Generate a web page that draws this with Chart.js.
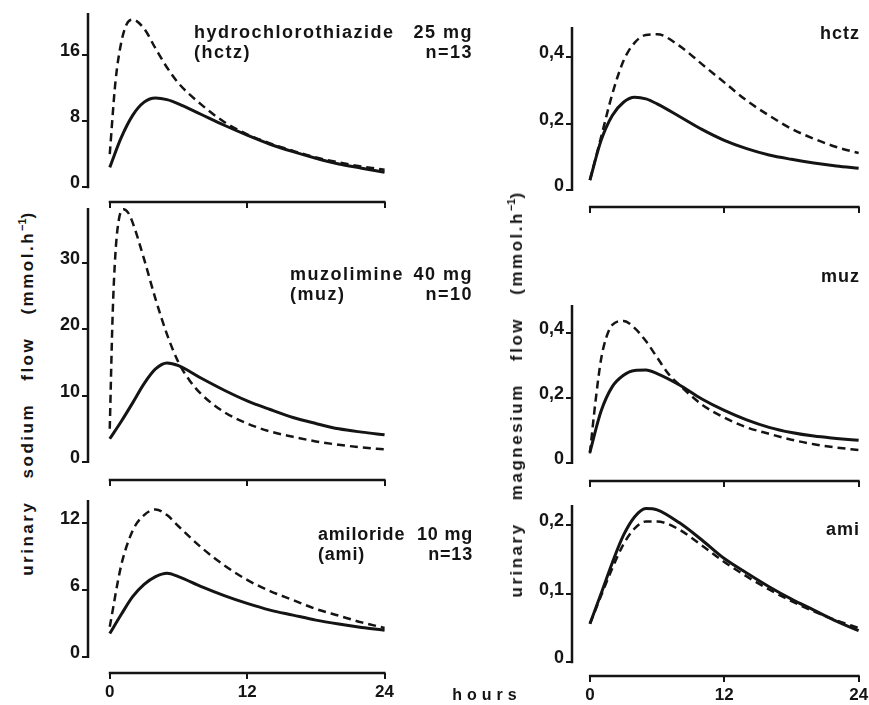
<!DOCTYPE html>
<html>
<head>
<meta charset="utf-8">
<script src="https://cdn.jsdelivr.net/npm/chart.js@4"></script>
<style>
  body { margin: 0; background: #fff; }
  #fig { position: relative; width: 869px; height: 705px; overflow: hidden;
         font-family: "Liberation Sans", Arial, sans-serif; font-weight: bold; color: #141414; }
  canvas { position: absolute; }
  .note { position: absolute; font-size: 18px; letter-spacing: 1.5px; line-height: 20px; z-index: 2; }
  .note div { display: flex; justify-content: space-between; white-space: pre; }
  .tag { position: absolute; right: 9px; font-size: 18px; letter-spacing: 1px; line-height: 20px; z-index: 2; }
  .ytitle { position: absolute; font-size: 17px; letter-spacing: 2.5px; word-spacing: 15px; white-space: pre;
            line-height: 18px; transform: translate(-50%, -50%) rotate(-90deg); z-index: 2; }
  .ytitle sup { font-size: 11px; letter-spacing: 0; vertical-align: 7px; line-height: 0; }
  #hours { position: absolute; left: 487px; top: 686px; transform: translateX(-50%);
           font-size: 16px; letter-spacing: 5px; line-height: 18px; z-index: 2; }
</style>
</head>
<body>
<div id="fig">
  <canvas id="p1"></canvas><canvas id="p2"></canvas><canvas id="p3"></canvas>
  <canvas id="p4"></canvas><canvas id="p5"></canvas><canvas id="p6"></canvas>

  <div class="note" style="left:194px; top:22px; width:279px;">
    <div><span>hydrochlorothiazide</span><span>25 mg</span></div>
    <div><span>(hctz)</span><span>n=13</span></div>
  </div>
  <div class="note" style="left:290px; top:264px; width:183px;">
    <div><span>muzolimine</span><span>40 mg</span></div>
    <div><span>(muz)</span><span>n=10</span></div>
  </div>
  <div class="note" style="left:318px; top:524px; width:155px; letter-spacing:0.8px;">
    <div><span>amiloride</span><span>10 mg</span></div>
    <div><span>(ami)</span><span>n=13</span></div>
  </div>

  <div class="tag" style="top:23px;">hctz</div>
  <div class="tag" style="top:266px;">muz</div>
  <div class="tag" style="top:519px;">ami</div>

  <div class="ytitle" style="left:28px; top:393px;">urinary sodium flow (mmol.h<sup>−1</sup>)</div>
  <div class="ytitle" style="left:517px; top:394px;">urinary magnesium flow (mmol.h<sup>−1</sup>)</div>
  <div id="hours">hours</div>
</div>

<script>
// hours after dosing (most curves are read at these times)
const hours = [0, 1, 2, 3, 4, 5, 6, 8, 10, 12, 14, 16, 18, 20, 22, 24];

// sodium flow, mmol/h
const naHctzSolid = [2.4, 6.0, 8.7, 10.3, 10.8, 10.6, 10.1, 8.8, 7.5, 6.3, 5.2, 4.3, 3.5, 2.8, 2.3, 1.8];
const naHctzDashTime = [0, 0.5, 1, 1.5, 2, 3, 4, 5, 6, 8, 10, 12, 14, 16, 18, 20, 22, 24];
const naHctzDashed = [4.0, 12.8, 17.5, 19.8, 20.3, 19.2, 16.8, 14.5, 12.6, 10.0, 7.9, 6.4, 5.3, 4.4, 3.6, 3.0, 2.5, 2.1];

const naMuzSolid = [3.5, 6.1, 8.9, 11.8, 14.0, 14.9, 14.5, 12.6, 10.8, 9.2, 7.9, 6.7, 5.8, 5.0, 4.5, 4.1];
const naMuzDashTime = [0, 0.25, 0.5, 0.8, 1.2, 1.6, 2, 3, 4, 5, 6, 7, 8, 10, 12, 14, 16, 18, 20, 22, 24];
const naMuzDashed = [5, 22, 31.5, 36.5, 38, 37.5, 36, 30.5, 24.5, 19.2, 15, 12.2, 10.2, 7.5, 5.8, 4.6, 3.8, 3.1, 2.6, 2.2, 1.9];

const naAmiSolid = [2.1, 3.8, 5.4, 6.5, 7.2, 7.5, 7.2, 6.3, 5.5, 4.8, 4.2, 3.75, 3.3, 2.95, 2.65, 2.4];
const naAmiDashed = [2.7, 8.2, 11.3, 12.7, 13.2, 12.7, 11.7, 9.8, 8.2, 6.9, 5.9, 5.1, 4.3, 3.7, 3.1, 2.6];

// magnesium flow, mmol/h
const mgHctzSolid = [0.03, 0.15, 0.225, 0.265, 0.28, 0.275, 0.26, 0.222, 0.183, 0.15, 0.125, 0.106, 0.093, 0.082, 0.073, 0.066];
const mgHctzDashed = [0.03, 0.16, 0.29, 0.39, 0.445, 0.468, 0.47, 0.435, 0.38, 0.325, 0.27, 0.225, 0.185, 0.155, 0.13, 0.112];

const mgMuzSolid = [0.034, 0.16, 0.235, 0.27, 0.285, 0.286, 0.275, 0.24, 0.197, 0.162, 0.133, 0.11, 0.094, 0.083, 0.076, 0.07];
const mgMuzDashTime = [0, 0.5, 1, 1.5, 2, 3, 4, 5, 6, 7, 8, 10, 12, 14, 16, 18, 20, 22, 24];
const mgMuzDashed = [0.03, 0.19, 0.32, 0.39, 0.425, 0.437, 0.415, 0.375, 0.325, 0.275, 0.24, 0.18, 0.14, 0.11, 0.09, 0.072, 0.058, 0.048, 0.04];

const mgAmiSolid = [0.056, 0.1, 0.145, 0.185, 0.212, 0.224, 0.222, 0.203, 0.178, 0.151, 0.13, 0.11, 0.092, 0.076, 0.06, 0.046];
const mgAmiDashed = [0.056, 0.097, 0.137, 0.172, 0.195, 0.205, 0.205, 0.193, 0.17, 0.146, 0.125, 0.106, 0.089, 0.074, 0.061, 0.05];

// tick labels
const xTicks = [0, 12, 24];
const naHctzTicks = [0, 8, 16];
const naMuzTicks = [0, 10, 20, 30];
const naAmiTicks = [0, 6, 12];
const mgTicks = [0, 0.2, 0.4];
const mgAmiTicks = [0, 0.1, 0.2];

const ink = '#141414';
Chart.defaults.font.family = '"Liberation Sans", Arial, sans-serif';
Chart.defaults.font.weight = 'bold';
Chart.defaults.font.size = 18;
Chart.defaults.color = ink;

// axis lines drawn as a range frame: y from 0 up, x from 0 to 24 h, set apart from the plot
const rangeFrame = {
  id: 'rangeFrame',
  afterDraw(chart) {
    const {ctx, chartArea, scales: {x, y}} = chart;
    ctx.save();
    ctx.strokeStyle = ink;
    ctx.lineWidth = 2.5;
    ctx.beginPath();
    ctx.moveTo(chartArea.left, y.getPixelForValue(0) + 1);
    ctx.lineTo(chartArea.left, chartArea.top);
    ctx.moveTo(x.getPixelForValue(0) - 1, chartArea.bottom);
    ctx.lineTo(x.getPixelForValue(24) + 1, chartArea.bottom);
    ctx.stroke();
    ctx.restore();
  }
};

const PAD = 14;
const panels = [
  {id: 'p1', left: 38,  top: -1,  w: 364, h: 217, xMin: -1.9, yMin: -1.8,   yMax: 21.1,  ticks: naHctzTicks, comma: false, bottom: false,
   lines: [[hours, naHctzSolid], [naHctzDashTime, naHctzDashed]]},
  {id: 'p2', left: 38,  top: 194, w: 364, h: 300, xMin: -1.9, yMin: -2.7,   yMax: 38.2,  ticks: naMuzTicks, comma: false, bottom: false,
   lines: [[hours, naMuzSolid], [naMuzDashTime, naMuzDashed]]},
  {id: 'p3', left: 38,  top: 486, w: 364, h: 221, xMin: -1.9, yMin: -1.43,  yMax: 14.05, ticks: naAmiTicks, comma: false, bottom: true,
   lines: [[hours, naAmiSolid], [hours, naAmiDashed]]},
  {id: 'p4', left: 522, top: 13,  w: 354, h: 208, xMin: -1.6, yMin: -0.051, yMax: 0.492, ticks: mgTicks, comma: true, bottom: false,
   lines: [[hours, mgHctzSolid], [hours, mgHctzDashed]]},
  {id: 'p5', left: 522, top: 291, w: 354, h: 204, xMin: -1.6, yMin: -0.055, yMax: 0.486, ticks: mgTicks, comma: true, bottom: false,
   lines: [[hours, mgMuzSolid], [mgMuzDashTime, mgMuzDashed]]},
  {id: 'p6', left: 522, top: 491, w: 354, h: 219, xMin: -1.6, yMin: -0.02,  yMax: 0.229, ticks: mgAmiTicks, comma: true, bottom: true,
   lines: [[hours, mgAmiSolid], [hours, mgAmiDashed]]}
];

panels.forEach(p => {
  const canvas = document.getElementById(p.id);
  canvas.width = p.w;
  canvas.height = p.h;
  canvas.style.left = p.left + 'px';
  canvas.style.top = p.top + 'px';

  const datasets = p.lines.map(([t, v], i) => ({
    data: t.map((tt, k) => ({x: tt, y: v[k]})),
    borderColor: ink,
    borderWidth: i === 0 ? 3 : 2.5,
    borderDash: i === 0 ? [] : [8, 5],
    pointRadius: 0,
    fill: false,
    cubicInterpolationMode: 'monotone'
  }));

  new Chart(canvas, {
    type: 'line',
    data: {datasets},
    options: {
      responsive: false,
      animation: false,
      devicePixelRatio: 1,
      layout: {padding: {top: PAD, right: 14, left: 0, bottom: 0}},
      plugins: {legend: {display: false}, tooltip: {enabled: false}},
      scales: {
        x: {
          type: 'linear',
          min: p.xMin,
          max: 24.3,
          afterBuildTicks: s => { s.ticks = xTicks.map(v => ({value: v})); },
          afterFit: s => { s.height = p.bottom ? 34 : PAD; },
          border: {display: false},
          grid: {drawOnChartArea: false, tickLength: 6, color: ink, lineWidth: 2},
          ticks: {display: p.bottom, padding: 3, maxRotation: 0, font: {size: 17}, callback: v => String(v)}
        },
        y: {
          min: p.yMin,
          max: p.yMax,
          afterBuildTicks: s => { s.ticks = p.ticks.map(v => ({value: v})); },
          afterFit: s => { s.width = 50; },
          border: {display: false},
          grid: {drawOnChartArea: false, tickLength: 6, color: ink, lineWidth: 2},
          ticks: {
            padding: 2,
            labelOffset: -4,
            callback: v => v === 0 ? '0' : (p.comma ? v.toFixed(1).replace('.', ',') : String(v))
          }
        }
      }
    },
    plugins: [rangeFrame]
  });
});
</script>
</body>
</html>
